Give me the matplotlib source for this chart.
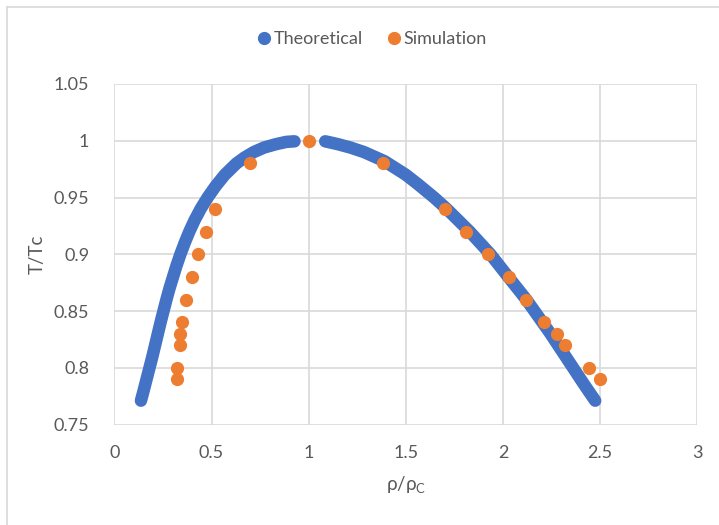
import matplotlib
matplotlib.use("Agg")
import matplotlib.pyplot as plt
from matplotlib.lines import Line2D

plt.rcParams['font.family'] = ['Lato', 'DejaVu Sans']
plt.rcParams['mathtext.fontset'] = 'custom'
plt.rcParams['mathtext.rm'] = 'Lato'

# theoretical coexistence curve
theo_left_T = [0.771, 0.78, 0.79, 0.80, 0.81, 0.82, 0.83, 0.84, 0.85, 0.86,
               0.87, 0.88, 0.89, 0.90, 0.91, 0.92, 0.93, 0.94, 0.95, 0.96,
               0.97, 0.98, 0.985, 0.99, 0.994, 0.997, 0.999, 0.9995]
theo_left_rho = [0.137, 0.151, 0.166, 0.181, 0.196, 0.210, 0.224, 0.238, 0.253, 0.268,
                 0.284, 0.302, 0.320, 0.340, 0.362, 0.386, 0.413, 0.444, 0.480, 0.521,
                 0.568, 0.628, 0.668, 0.717, 0.77, 0.832, 0.885, 0.927]
theo_right_T = [0.9995, 0.997, 0.994, 0.99, 0.982, 0.97, 0.962, 0.95, 0.94, 0.92,
                0.90, 0.88, 0.86, 0.845, 0.831, 0.815, 0.80, 0.785, 0.771]
theo_right_rho = [1.085, 1.15, 1.215, 1.285, 1.39, 1.50, 1.56, 1.645, 1.71, 1.828,
                  1.935, 2.027, 2.12, 2.182, 2.24, 2.302, 2.36, 2.418, 2.474]

# simulation points
sim_rho = [0.32, 0.32, 0.34, 0.34, 0.35, 0.37, 0.40, 0.43, 0.47, 0.52, 0.70, 1.0,
           1.38, 1.70, 1.81, 1.92, 2.03, 2.12, 2.21, 2.28, 2.32, 2.44, 2.50]
sim_T = [0.79, 0.80, 0.82, 0.83, 0.84, 0.86, 0.88, 0.90, 0.92, 0.94, 0.98, 1.0,
         0.98, 0.94, 0.92, 0.90, 0.88, 0.86, 0.84, 0.83, 0.82, 0.80, 0.79]

xticks = [0, 0.5, 1, 1.5, 2, 2.5, 3]
xtick_labels = ["0", "0.5", "1", "1.5", "2", "2.5", "3"]
yticks = [0.75, 0.8, 0.85, 0.9, 0.95, 1, 1.05]
ytick_labels = ["0.75", "0.8", "0.85", "0.9", "0.95", "1", "1.05"]

blue = "#4472C4"
orange = "#ED7D31"
grey_txt = "#595959"
grid_col = "#D9D9D9"

fig = plt.figure(figsize=(7.19, 5.25), dpi=100)
ax = fig.add_axes([0.159, 0.1914, 0.811, 0.6486])

ax.plot(theo_left_rho, theo_left_T, color=blue, lw=9, solid_capstyle='round',
        solid_joinstyle='round', zorder=3)
ax.plot(theo_right_rho, theo_right_T, color=blue, lw=9, solid_capstyle='round',
        solid_joinstyle='round', zorder=3)
ax.plot(sim_rho, sim_T, 'o', color=orange, ms=8.5, mec=orange, zorder=4)

ax.set_xlim(0, 3)
ax.set_ylim(0.75, 1.05)
ax.set_xticks(xticks)
ax.set_xticklabels(xtick_labels)
ax.set_yticks(yticks)
ax.set_yticklabels(ytick_labels)
ax.tick_params(length=0, labelsize=13, labelcolor=grey_txt)
ax.tick_params(axis='x', pad=15)
ax.tick_params(axis='y', pad=18)
for s in ax.spines.values():
    s.set_visible(False)
ax.grid(True, color=grid_col, lw=1.2)
ax.set_axisbelow(True)

fig.text(0.052, 0.516, "T/Tc", rotation=90, ha='center', va='center',
         fontsize=13.5, color=grey_txt)
fig.text(0.5645, 0.075, r"ρ/ρ$_\mathregular{C}$", ha='center', va='center',
         fontsize=13.5, color=grey_txt)

handles = [Line2D([], [], ls='', marker='o', color=blue, ms=8.5),
           Line2D([], [], ls='', marker='o', color=orange, ms=8.5)]
fig.legend(handles, ["Theoretical", "Simulation"], loc='center',
           bbox_to_anchor=(0.516, 0.925), ncol=2, frameon=False, fontsize=13,
           labelcolor=grey_txt, handletextpad=0.05, columnspacing=1.2,
           handlelength=1.0)

# chart area border (left and top edges visible)
fig.add_artist(Line2D([0.0097, 0.0097], [0.0, 0.9867], color=grid_col, lw=1.2))
fig.add_artist(Line2D([0.0097, 1.0], [0.9867, 0.9867], color=grid_col, lw=1.2))

fig.savefig("out.png", dpi=100)
